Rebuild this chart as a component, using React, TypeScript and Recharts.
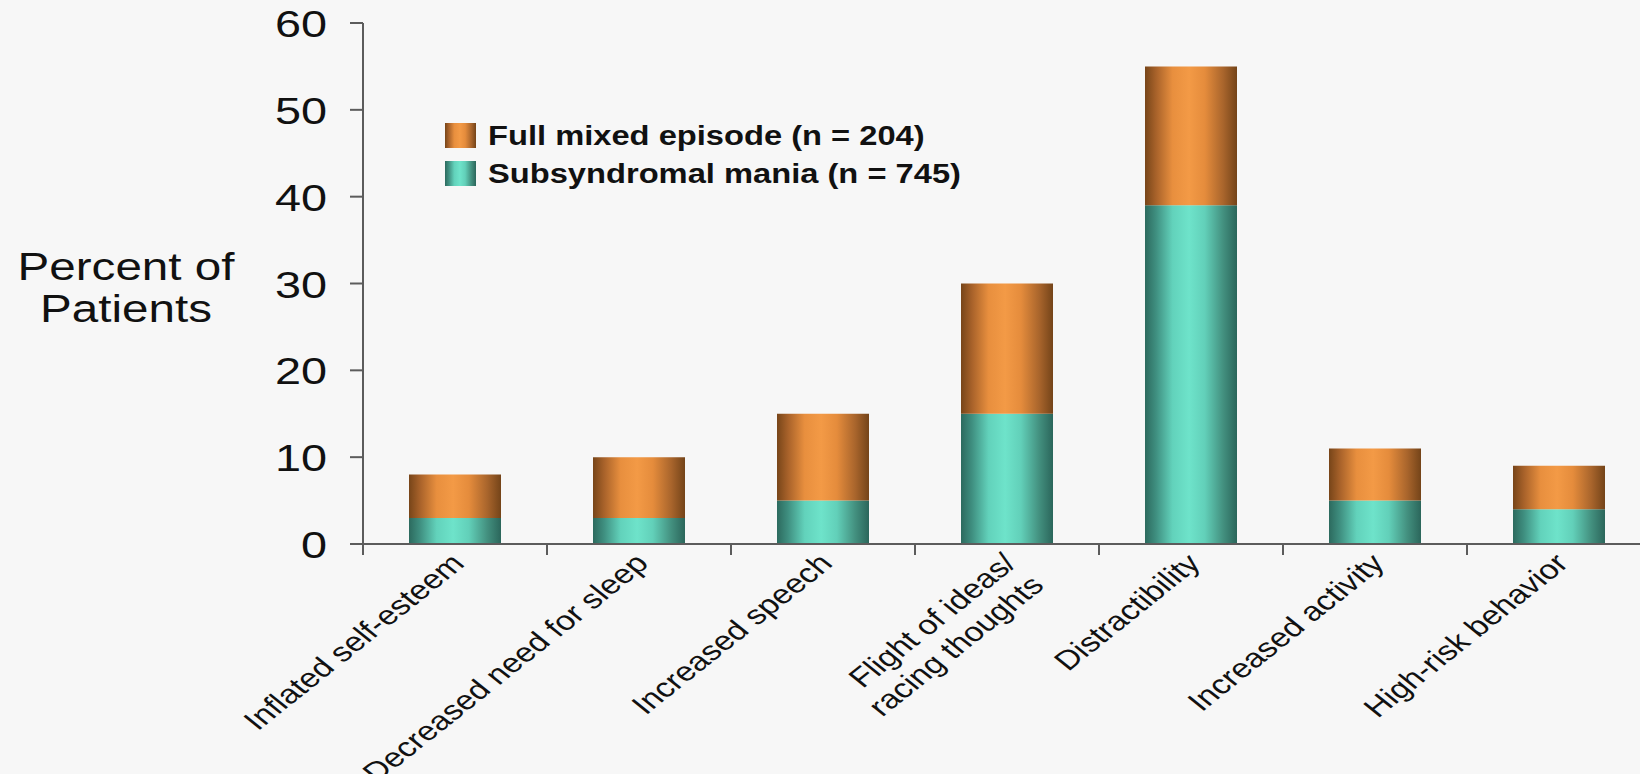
import React from 'react';
import { BarChart, Bar, XAxis, YAxis, Legend } from 'recharts';

const categories = [
  'Inflated self-esteem',
  'Decreased need for sleep',
  'Increased speech',
  'Flight of ideas/\nracing thoughts',
  'Distractibility',
  'Increased activity',
  'High-risk behavior',
];
const subsyndromalMania = [3, 3, 5, 15, 39, 5, 4];
const fullMixedEpisode = [5, 7, 10, 15, 16, 6, 5];
const yTicks = [0, 10, 20, 30, 40, 50, 60];
const seriesNames = ['Full mixed episode (n = 204)', 'Subsyndromal mania (n = 745)'];

const data = categories.map((name, i) => ({
  name,
  sub: subsyndromalMania[i],
  full: fullMixedEpisode[i],
}));

const FONT = '"Liberation Sans", Arial, Helvetica, sans-serif';
const AXIS = '#5c5c5c';
const STRETCH = 1.25;

const orangeStops = [
  ['0%', '#774519'],
  ['12%', '#a8622a'],
  ['30%', '#e88f3e'],
  ['48%', '#f39a46'],
  ['65%', '#e58c3c'],
  ['85%', '#a9652c'],
  ['100%', '#744419'],
];
const tealStops = [
  ['0%', '#2c6a5e'],
  ['12%', '#3f8f80'],
  ['30%', '#62d2bb'],
  ['48%', '#6ee3ca'],
  ['65%', '#62d0b9'],
  ['85%', '#43907f'],
  ['100%', '#2b665b'],
];

const cssGrad = (stops: string[][]) =>
  `linear-gradient(to right, ${stops.map(([o, c]) => `${c} ${o}`).join(', ')})`;

const XTick = (props: any) => {
  const { x, y, payload, index, visibleTicksCount } = props;
  const lines = String(payload.value).split('\n');
  const half = typeof payload.offset === 'number' ? payload.offset : 0;
  const isLast = index === (visibleTicksCount ?? categories.length) - 1;
  return (
    <g>
      {half > 0 && (
        <line x1={x - half} x2={x - half} y1={y} y2={y + 11} stroke={AXIS} strokeWidth={2} />
      )}
      {half > 0 && isLast && (
        <line x1={x + half} x2={x + half} y1={y} y2={y + 11} stroke={AXIS} strokeWidth={2} />
      )}
      <g transform={`translate(${x + 11},${y + 21}) scale(${STRETCH},1) rotate(-45)`}>
        <text textAnchor="end" fontSize={27} fontFamily={FONT} fill="#111">
          {lines.map((l, i) => (
            <tspan key={i} x={0} dy={i === 0 ? 0 : 31}>
              {l}
            </tspan>
          ))}
        </text>
      </g>
    </g>
  );
};

const YTick = (props: any) => {
  const { x, y, payload } = props;
  return (
    <text
      transform={`translate(${x},${y}) scale(1.3,1)`}
      textAnchor="end"
      dy={14}
      fontSize={36}
      fontFamily={FONT}
      fill="#111"
    >
      {payload.value}
    </text>
  );
};

const YTitle = () => (
  <g transform="translate(126,0) scale(1.22,1)">
    <text textAnchor="middle" fontSize={39} fontFamily={FONT} fill="#111">
      <tspan x={0} y={280}>Percent of</tspan>
      <tspan x={0} y={322}>Patients</tspan>
    </text>
  </g>
);

const LegendContent = () => {
  const swatches = [cssGrad(orangeStops), cssGrad(tealStops)];
  return (
    <div style={{ fontFamily: FONT }}>
      {seriesNames.map((n, i) => (
        <div key={n} style={{ position: 'relative', height: 38, width: 520 }}>
          <div
            style={{
              position: 'absolute',
              left: 0,
              top: 6,
              width: 31,
              height: 25,
              background: swatches[i],
            }}
          />
          <div
            style={{
              position: 'absolute',
              left: 43,
              top: 0,
              lineHeight: '38px',
              fontSize: 27,
              fontWeight: 'bold',
              color: '#111',
              whiteSpace: 'nowrap',
              transform: `scale(1.21,1)`,
              transformOrigin: 'left center',
            }}
          >
            {n}
          </div>
        </div>
      ))}
    </div>
  );
};

export default function App() {
  return (
    <div
      style={{
        position: 'absolute',
        left: 0,
        top: 0,
        width: 1640,
        height: 774,
        overflow: 'hidden',
        background: '#f7f7f7',
      }}
    >
      <BarChart
        width={1660}
        height={774}
        data={data}
        margin={{ top: 23, right: 9, left: 0, bottom: 0 }}
        barCategoryGap="25%"
      >
        <defs>
          <linearGradient id="gOrange" x1="0" y1="0" x2="1" y2="0">
            {orangeStops.map(([o, c]) => (
              <stop key={o} offset={o} stopColor={c} />
            ))}
          </linearGradient>
          <linearGradient id="gTeal" x1="0" y1="0" x2="1" y2="0">
            {tealStops.map(([o, c]) => (
              <stop key={o} offset={o} stopColor={c} />
            ))}
          </linearGradient>
        </defs>
        <XAxis
          dataKey="name"
          height={230}
          axisLine={{ stroke: AXIS, strokeWidth: 2 }}
          tickLine={false}
          tickSize={0}
          tickMargin={0}
          interval={0}
          tick={<XTick />}
        />
        <YAxis
          width={363}
          domain={[0, 60]}
          ticks={yTicks}
          interval={0}
          tickSize={13}
          tickMargin={23}
          axisLine={{ stroke: AXIS, strokeWidth: 2 }}
          tickLine={{ stroke: AXIS, strokeWidth: 2 }}
          tick={<YTick />}
          label={{ content: () => <YTitle /> }}
        />
        <Legend
          layout="horizontal"
          verticalAlign="middle"
          align="center"
          content={() => <LegendContent />}
          wrapperStyle={{ position: 'absolute', left: 445, top: 117, width: 560, height: 80 }}
        />
        <Bar
          dataKey="sub"
          name={seriesNames[1]}
          stackId="a"
          fill="url(#gTeal)"
          isAnimationActive={false}
        />
        <Bar
          dataKey="full"
          name={seriesNames[0]}
          stackId="a"
          fill="url(#gOrange)"
          isAnimationActive={false}
        />
      </BarChart>
    </div>
  );
}
